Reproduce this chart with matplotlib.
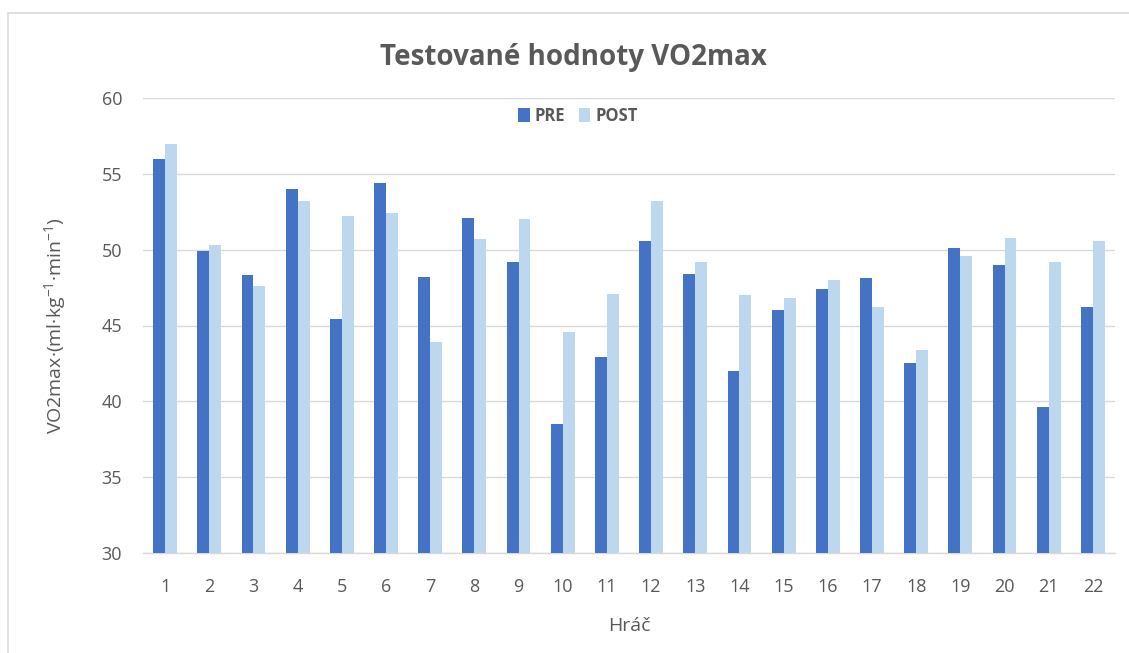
import matplotlib
matplotlib.use("Agg")
import matplotlib.pyplot as plt
import numpy as np
from matplotlib.patches import Rectangle

players = [str(i) for i in range(1, 23)]
pre = [56.0, 49.9, 48.3, 54.0, 45.4, 54.4, 48.2, 52.1, 49.2, 38.5, 42.9,
       50.6, 48.4, 42.0, 46.0, 47.4, 48.1, 42.5, 50.1, 49.0, 39.6, 46.2]
post = [57.0, 50.3, 47.6, 53.2, 52.2, 52.4, 43.9, 50.7, 52.0, 44.6, 47.1,
        53.2, 49.2, 47.0, 46.8, 48.0, 46.2, 43.4, 49.6, 50.8, 49.2, 50.6]
yticks = [30, 35, 40, 45, 50, 55, 60]

plt.rcParams['font.family'] = ['Open Sans', 'DejaVu Sans']
plt.rcParams['mathtext.fontset'] = 'custom'
plt.rcParams['mathtext.rm'] = 'Open Sans'
plt.rcParams['mathtext.it'] = 'Open Sans'
txt = '#595959'

fig = plt.figure(figsize=(11.29, 6.53), dpi=100)
fig.patches.append(Rectangle((8/1129, -0.01), 1.2, 1 - 13/653 + 0.01,
                             transform=fig.transFigure, fill=False,
                             edgecolor='#D9D9D9', linewidth=1.2))
ax = fig.add_axes([143/1129, 1 - 553/653, 972/1129, 455/653])

x = np.arange(len(players))
w = 0.27
ax.bar(x - w/2, pre, w, color='#4472C4', label='PRE', zorder=3)
ax.bar(x + w/2, post, w, color='#BDD7EE', label='POST', zorder=3)

ax.set_ylim(30, 60)
ax.set_xlim(-0.5, len(players) - 0.5)
ax.set_yticks(yticks)
ax.set_xticks(x)
ax.set_xticklabels(players)
ax.yaxis.grid(True, color='#D9D9D9', linewidth=1, zorder=0)
ax.set_axisbelow(True)
for s in ['top', 'right', 'left']:
    ax.spines[s].set_visible(False)
ax.spines['bottom'].set_color('#D9D9D9')
ax.spines['bottom'].set_linewidth(1)
ax.tick_params(axis='both', length=0, labelsize=13, colors=txt)
ax.tick_params(axis='x', pad=18)
ax.tick_params(axis='y', pad=15)

ax.set_xlabel('Hráč', fontsize=14, color=txt, labelpad=15)
ax.set_ylabel(r'VO2max·(ml·kg$^{\mathrm{-1}}$·min$^{\mathrm{-1}}$)',
              fontsize=14, color=txt, labelpad=24)

fig.text(573/1129, 1 - 57/653, 'Testované hodnoty VO2max', ha='center', va='center',
         fontsize=20, fontweight='bold', color=txt)

leg = ax.legend(loc='center', bbox_to_anchor=(578/1129, 1 - 116/653),
                bbox_transform=fig.transFigure, ncol=2, frameon=False,
                fontsize=12, handlelength=0.7, handleheight=0.9,
                handletextpad=0.3, columnspacing=0.8)
for t in leg.get_texts():
    t.set_color(txt)
    t.set_fontweight('bold')

fig.savefig('out.png', dpi=100)
